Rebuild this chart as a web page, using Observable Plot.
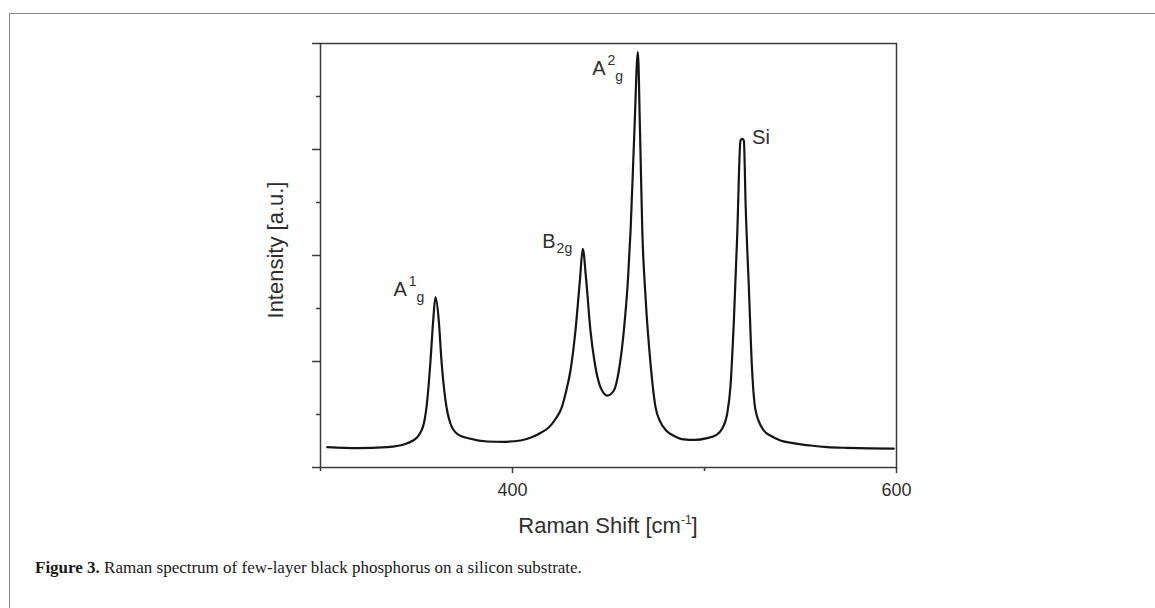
<!DOCTYPE html>
<html>
<head>
<meta charset="utf-8">
<script src="https://cdn.jsdelivr.net/npm/d3@7"></script>
<script src="https://cdn.jsdelivr.net/npm/@observablehq/plot@0.6"></script>
<style>
  html, body { margin: 0; padding: 0; background: #fff; overflow: hidden; width: 1155px; height: 608px; }
  #border { position: absolute; left: 9px; top: 13px; width: 1400px; height: 900px; border: 1.5px solid #8a8a8a; box-sizing: border-box; }
  #wrap { position: absolute; left: 0; top: 0; width: 1155px; }
  #caption { margin-left: 35px; padding-top: 8px; font-family: "Liberation Serif", "DejaVu Serif", serif; font-size: 17px; line-height: 20px; color: #1a1a1a; }
</style>
</head>
<body>
<div id="border"></div>
<div id="wrap"></div>
<script>
// Spectrum (Raman shift in cm^-1, intensity in arbitrary units)
const ramanShift = [303.5, 319.1, 334.7, 345.2, 350.4, 353.8, 355.6, 357.3, 358.7, 359.9, 361.6, 363.0, 365.1, 367.7, 371.2, 378.1, 386.8, 395.0, 404.2, 410.0, 415.0, 419.0, 422.5, 425.5, 428.0, 430.2, 432.8, 435.1, 436.6, 438.4, 440.6, 442.9, 445.8, 449.3, 452.8, 455.4, 458.0, 460.1, 461.5, 463.5, 465.3, 466.4, 467.6, 469.3, 471.9, 474.5, 477.0, 480.0, 484.0, 489.2, 495.0, 501.4, 506.0, 509.0, 511.8, 513.5, 515.3, 517.0, 518.75, 519.6, 520.5, 521.4, 523.1, 524.8, 526.6, 530.9, 534.5, 539.6, 546.0, 555.2, 564.0, 574.3, 586.0, 598.6];
const intensity = [0.383, 0.364, 0.383, 0.458, 0.572, 0.825, 1.264, 2.019, 2.774, 3.213, 2.774, 2.019, 1.264, 0.825, 0.636, 0.542, 0.491, 0.485, 0.51, 0.57, 0.66, 0.76, 0.92, 1.12, 1.45, 1.83, 2.585, 3.528, 4.126, 3.528, 2.585, 1.957, 1.515, 1.358, 1.453, 1.83, 2.585, 3.528, 4.472, 6.36, 7.836, 6.36, 4.472, 3.213, 1.957, 1.138, 0.86, 0.70, 0.60, 0.53, 0.52, 0.555, 0.61, 0.72, 1.013, 1.515, 2.774, 4.345, 6.17, 6.2, 6.17, 4.98, 3.40, 1.83, 1.075, 0.698, 0.60, 0.51, 0.46, 0.415, 0.385, 0.37, 0.36, 0.355];

// Peak labels
const peakMain = ["A", "B", "A", "Si"];
const peakSup = ["1", "", "2", ""];
const peakSub = ["g", "2g", "g", ""];
const peakLabelShift = [338.0, 415.5, 441.5, 524.8];
const peakLabelIntensity = [3.245, 4.15, 7.40, 6.108];

// Axis ticks
const xMajorTicks = [400, 600];
const xMinorTicks = [300, 500];
const yMajorTicks = [0, 2, 4, 6, 8];
const yMinorTicks = [1, 3, 5, 7];
const xLabel = "Raman Shift [cm";
const xLabelSup = "-1";
const yLabel = "Intensity [a.u.]";

const spectrum = ramanShift.map((x, i) => ({x, y: intensity[i]}));
const labels = peakMain.map((m, i) => ({main: m, sup: peakSup[i], sub: peakSub[i], x: peakLabelShift[i], y: peakLabelIntensity[i]}));

const axisColor = "#3a3a3a";
const textColor = "#2e2e2e";

const plot = Plot.plot({
  width: 1155,
  height: 550,
  marginLeft: 320,
  marginRight: 259,
  marginTop: 43,
  marginBottom: 83,
  x: {domain: [300, 600]},
  y: {domain: [0, 8]},
  style: {fontFamily: "'Liberation Sans', Arial, sans-serif", color: textColor, background: "transparent", overflow: "visible"},
  marks: [
    Plot.axisX(xMajorTicks, {tickSize: 6, tickPadding: 10, fontSize: 18, label: null, stroke: axisColor, strokeWidth: 1.5, fill: textColor}),
    Plot.axisX(xMinorTicks, {tickSize: 4, tickFormat: () => "", label: null, stroke: axisColor, strokeWidth: 1.5}),
    Plot.axisY(yMajorTicks, {tickSize: 8, tickFormat: () => "", label: null, stroke: axisColor, strokeWidth: 1.5}),
    Plot.axisY(yMinorTicks, {tickSize: 4, tickFormat: () => "", label: null, stroke: axisColor, strokeWidth: 1.5}),
    Plot.frame({stroke: axisColor, strokeWidth: 1.5}),
    Plot.line(spectrum, {x: "x", y: "y", stroke: "#151515", strokeWidth: 2.2, curve: "monotone-x"}),
    Plot.text(labels, {x: "x", y: "y", text: "main", textAnchor: "start", lineAnchor: "bottom", fontSize: 20, fill: textColor})
  ]
});

document.getElementById("wrap").appendChild(plot);

// sub/superscripts on the peak labels
const svg = d3.select(plot);
svg.selectAll('g[aria-label="text"] text').each(function(d, i) {
  const lab = labels[i];
  const t = d3.select(this);
  if (lab.sup) {
    t.append("tspan").attr("font-size", 14).attr("dx", 2).attr("dy", -10).text(lab.sup);
    if (lab.sub) t.append("tspan").attr("font-size", 14).attr("dx", 0).attr("dy", 16).text(lab.sub);
  } else if (lab.sub) {
    t.append("tspan").attr("font-size", 14).attr("dx", 1).attr("dy", 5).text(lab.sub);
  }
});

// axis titles
const xs = plot.scale("x"), ys = plot.scale("y");
const xMid = (xs.apply(300) + xs.apply(600)) / 2;
const xt = svg.append("text")
  .attr("x", xMid).attr("y", ys.apply(0) + 66)
  .attr("text-anchor", "middle")
  .attr("font-size", 22).attr("fill", textColor)
  .attr("font-family", "'Liberation Sans', Arial, sans-serif");
xt.append("tspan").text(xLabel);
xt.append("tspan").attr("font-size", 12).attr("dy", -9).text(xLabelSup);
xt.append("tspan").attr("dy", 9).text("]");

const yMid = (ys.apply(0) + ys.apply(8)) / 2;
svg.append("text")
  .attr("transform", `translate(${xs.apply(300) - 37},${yMid - 5}) rotate(-90)`)
  .attr("text-anchor", "middle")
  .attr("font-size", 22).attr("fill", textColor)
  .attr("font-family", "'Liberation Sans', Arial, sans-serif")
  .text(yLabel);

const cap = document.createElement("div");
cap.id = "caption";
cap.innerHTML = "<b>Figure 3.</b> Raman spectrum of few-layer black phosphorus on a silicon substrate.";
document.getElementById("wrap").appendChild(cap);
</script>
</body>
</html>
